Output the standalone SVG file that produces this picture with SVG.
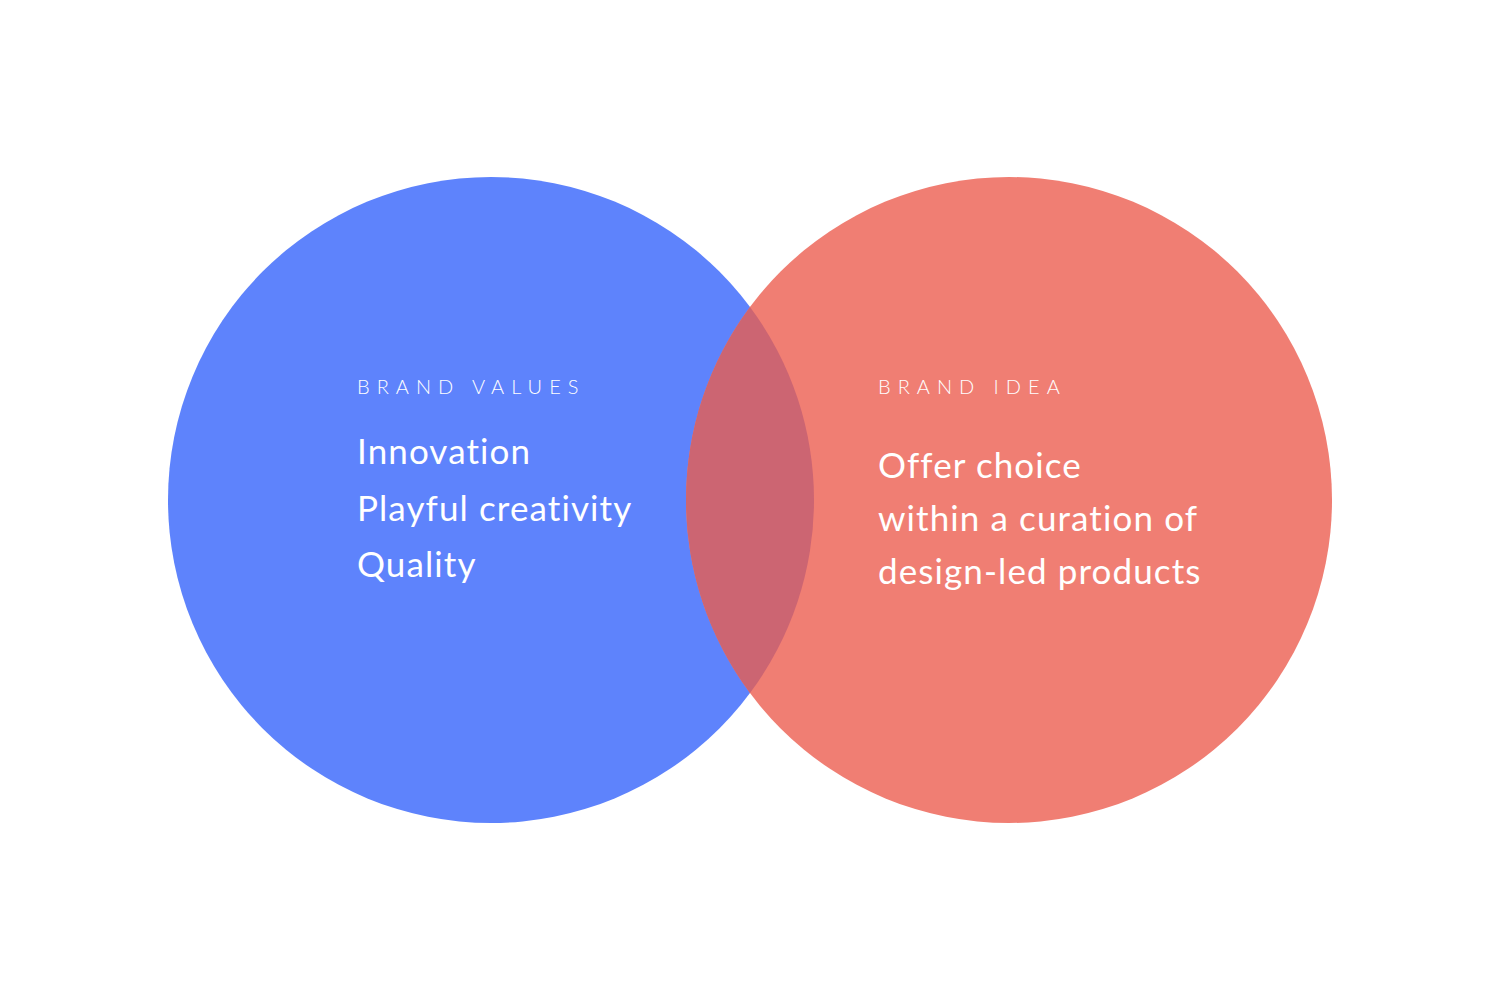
<svg xmlns="http://www.w3.org/2000/svg" width="1500" height="1000" viewBox="0 0 1500 1000">
<style>
.lbl{font-family:"Lato","Liberation Sans",sans-serif;font-size:20px;letter-spacing:7px;fill:#ffffff;font-weight:300}
.txt{font-family:"Lato","Liberation Sans",sans-serif;font-size:35px;letter-spacing:1.1px;fill:#ffffff;font-weight:400;font-variant-ligatures:none}
</style>
<rect width="1500" height="1000" fill="#ffffff"/>
<g id="values">
<circle cx="491" cy="500" r="323" fill="#5E83FC"/>
</g>
<g id="idea">
<circle cx="1009" cy="500" r="323" fill="#F07E73"/>
</g>
<g id="overlap">
<path d="M750,307 A323,323 0 0 1 750,693 A323,323 0 0 1 750,307 Z" fill="#CC6572"/>
</g>
<g id="values-text">
<text class="lbl" x="357" y="394">BRAND VALUES</text>
<text class="txt" x="357" y="464">Innovation</text>
<text class="txt" x="357" y="521">Playful creativity</text>
<text class="txt" x="357" y="577">Quality</text>
</g>
<g id="idea-text">
<text class="lbl" x="878" y="394">BRAND IDEA</text>
<text class="txt" x="878" y="478">Offer choice</text>
<text class="txt" x="878" y="531">within a curation of</text>
<text class="txt" x="878" y="584">design-led products</text>
</g>
</svg>
